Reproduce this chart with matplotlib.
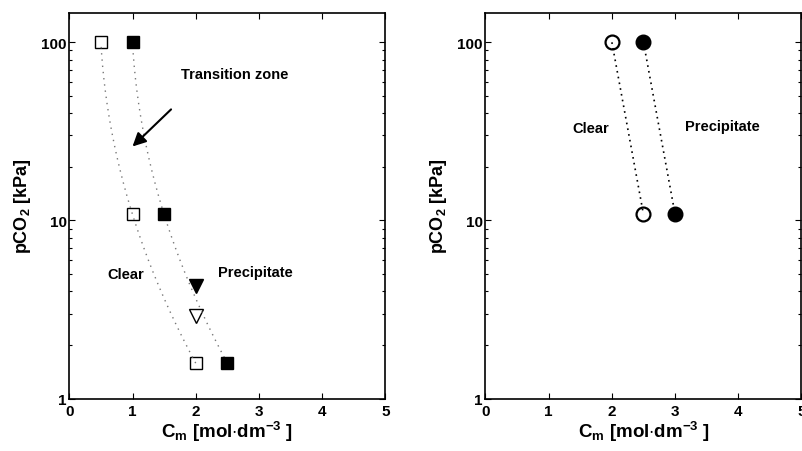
import numpy as np
import matplotlib
matplotlib.use("Agg")
import matplotlib.pyplot as plt
from matplotlib.ticker import FixedLocator, LogLocator, NullFormatter, FixedFormatter

plt.rcParams['font.family'] = ['Liberation Sans', 'DejaVu Sans']
plt.rcParams['font.weight'] = 'bold'
plt.rcParams['mathtext.fontset'] = 'custom'
plt.rcParams['mathtext.rm'] = 'Liberation Sans:bold'
plt.rcParams['mathtext.it'] = 'Liberation Sans:bold'
plt.rcParams['mathtext.bf'] = 'Liberation Sans:bold'
plt.rcParams['mathtext.default'] = 'rm'

# ---- data: left panel ----
clear_sq_x = [0.5, 1.0, 2.0]
clear_sq_y = [100, 10.8, 1.58]
prec_sq_x = [1.0, 1.5, 2.5]
prec_sq_y = [100, 10.8, 1.58]
tri_filled_x = [2.0]
tri_filled_y = [4.3]
tri_open_x = [2.0]
tri_open_y = [2.9]

# ---- data: right panel ----
clear_circ_x = [2.0, 2.5]
clear_circ_y = [100, 10.8]
prec_circ_x = [2.5, 3.0]
prec_circ_y = [100, 10.8]

xticks = [0, 1, 2, 3, 4, 5]
yticks = [1, 10, 100]
yticklabels = ['1', '10', '100']

fig = plt.figure(figsize=(8.03, 4.52), dpi=100)
axL = fig.add_axes([69.3/803, 1-399.5/452, 316/803, (399.5-13.5)/452])
axR = fig.add_axes([485.5/803, 1-399.5/452, 316/803, (399.5-13.5)/452])

def style(ax):
    ax.set_yscale('log')
    ax.set_xlim(0, 5)
    ax.set_ylim(1, 147)
    ax.xaxis.set_major_locator(FixedLocator(xticks))
    ax.yaxis.set_major_locator(FixedLocator(yticks))
    ax.yaxis.set_major_formatter(FixedFormatter(yticklabels))
    ax.yaxis.set_minor_locator(LogLocator(base=10, subs=np.arange(2, 10)))
    ax.yaxis.set_minor_formatter(NullFormatter())
    ax.tick_params(which='both', direction='in', top=True, right=True,
                   labelsize=11, width=0.8)
    ax.tick_params(which='major', length=4, pad=2)
    ax.tick_params(axis='x', which='major', pad=4)
    ax.tick_params(which='minor', length=2.5)
    for lab in ax.get_xticklabels() + ax.get_yticklabels():
        lab.set_fontweight('bold')
    for s in ax.spines.values():
        s.set_linewidth(1.2)
    ax.set_xlabel(r'C$_\mathrm{m}$ [mol$\cdot$dm$^{-3}$ ]', fontsize=13.5, fontweight='bold')
    ax.xaxis.set_label_coords(0.5, -0.052)
    ax.set_ylabel(r'pCO$_2$ [kPa]', fontsize=13, fontweight='bold', labelpad=6)

style(axL)
style(axR)

# smooth guide curves through the left-panel squares (quadratic in log y)
def guide(xs, ys):
    u = np.log10(ys)
    c = np.polyfit(u, xs, 2)
    uu = np.linspace(u.min(), u.max(), 200)
    return np.polyval(c, uu), 10**uu

gx, gy = guide(np.array(clear_sq_x), np.array(clear_sq_y))
axL.plot(gx, gy, color='#777777', lw=1.0, ls=(0, (1, 3.5)), zorder=3)
gx, gy = guide(np.array(prec_sq_x), np.array(prec_sq_y))
axL.plot(gx, gy, color='#777777', lw=1.0, ls=(0, (1, 3.5)), zorder=3)

axL.plot(clear_sq_x, clear_sq_y, ls='none', marker='s', ms=8, mfc='none', mec='black', mew=1.0, zorder=2)
axL.plot(prec_sq_x, prec_sq_y, ls='none', marker='s', ms=8, mfc='black', mec='black', mew=1.0, zorder=4)
axL.plot(tri_filled_x, tri_filled_y, ls='none', marker='v', ms=10, mfc='black', mec='black', mew=1.0)
axL.plot(tri_open_x, tri_open_y, ls='none', marker='v', ms=10, mfc='none', mec='black', mew=1.0)

axL.text(1.76, 66, 'Transition zone', fontsize=10.5, fontweight='bold', ha='left', va='center')
axL.annotate('', xy=(1.0, 26), xytext=(1.61, 42),
             arrowprops=dict(arrowstyle='-|>', color='black', lw=1.5,
                             mutation_scale=20, shrinkA=0, shrinkB=0))
axL.text(0.89, 5.0, 'Clear', fontsize=10.5, fontweight='bold', ha='center', va='center')
axL.text(2.94, 5.1, 'Precipitate', fontsize=10.5, fontweight='bold', ha='center', va='center')

# right panel
axR.plot(clear_circ_x, clear_circ_y, color='black', lw=1.2, ls=(0, (1, 2.5)), zorder=3)
axR.plot(prec_circ_x, prec_circ_y, color='black', lw=1.2, ls=(0, (1, 2.5)), zorder=3)
axR.plot(clear_circ_x, clear_circ_y, ls='none', marker='o', ms=10, mfc='none', mec='black', mew=1.6, zorder=2)
axR.plot(prec_circ_x, prec_circ_y, ls='none', marker='o', ms=10.5, mfc='black', mec='black', mew=1.0, zorder=4)
axR.text(1.66, 33, 'Clear', fontsize=10.5, fontweight='bold', ha='center', va='center')
axR.text(3.75, 34, 'Precipitate', fontsize=10.5, fontweight='bold', ha='center', va='center')

fig.savefig('out.png', dpi=100)
